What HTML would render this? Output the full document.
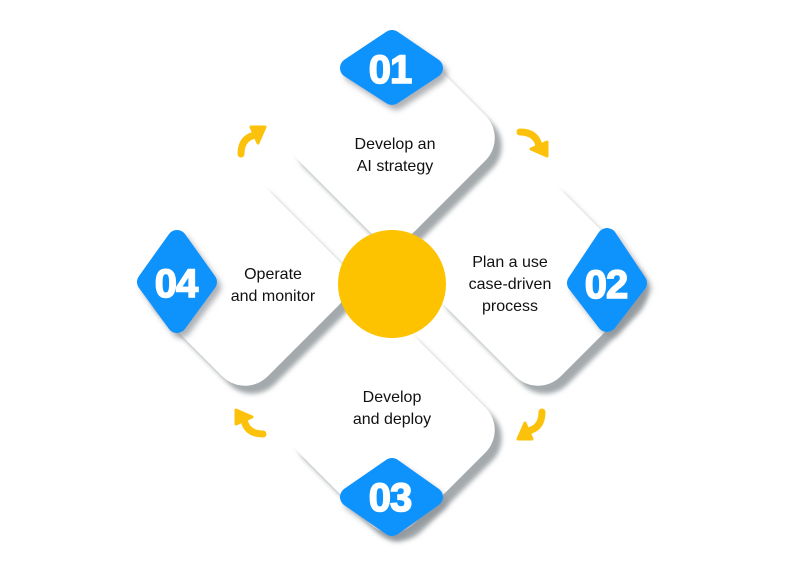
<!DOCTYPE html>
<html><head><meta charset="utf-8"><style>
html,body{margin:0;padding:0;background:#fff;}
svg{display:block;}
.t{font-family:"Liberation Sans",sans-serif;font-size:16px;fill:#111;text-anchor:middle;}
.n{font-family:"Liberation Sans",sans-serif;font-weight:bold;font-size:40px;fill:#fff;stroke:#fff;stroke-width:1.5px;text-anchor:middle;letter-spacing:-1px;}
</style></head><body>
<svg width="800" height="568" viewBox="0 0 800 568">
<defs>
<filter id="sh" x="-30%" y="-30%" width="160%" height="160%">
<feDropShadow dx="7" dy="8" stdDeviation="2.5" flood-color="#a3a9ac" flood-opacity="1"/>
</filter>
<filter id="sh2" x="-30%" y="-30%" width="160%" height="160%">
<feDropShadow dx="4" dy="5" stdDeviation="3" flood-color="#8c9296" flood-opacity="0.7"/>
</filter>
<g id="arr">
<path d="M-9,13 Q-9,-3 5,-6" fill="none" stroke="#fcc10a" stroke-width="7" stroke-linecap="round"/>
<polygon points="15,-14 1,-14 8,2" fill="#fcc10a" stroke="#fcc10a" stroke-width="3" stroke-linejoin="round"/>
</g>
</defs>
<g filter="url(#sh)" fill="#fff">
<rect x="-82" y="-82" width="164" height="164" rx="32" transform="translate(392,138) rotate(45)"/>
<rect x="-82" y="-82" width="164" height="164" rx="32" transform="translate(538,283) rotate(45)"/>
<rect x="-82" y="-82" width="164" height="164" rx="32" transform="translate(392,430) rotate(45)"/>
<rect x="-82" y="-82" width="164" height="164" rx="32" transform="translate(245,283) rotate(45)"/>
</g>
<circle cx="392" cy="284" r="54" fill="#fdc200"/>
<g filter="url(#sh2)" fill="#0a93fb" stroke="#0a93fb" stroke-width="20" stroke-linejoin="round">
<polygon points="392,40 433,68 392,95 350,68"/>
<polygon points="607,238 637,283 607,322 577,283"/>
<polygon points="392,468 433,497 392,526 350,497"/>
<polygon points="177,240 207,282 177,323 147,282"/>
</g>
<text class="n" x="390" y="83">01</text>
<text class="n" x="606" y="298">02</text>
<text class="n" x="390" y="511">03</text>
<text class="n" x="176" y="297">04</text>
<text class="t" x="395" y="149">Develop an</text>
<text class="t" x="395" y="171">AI strategy</text>
<text class="t" x="510" y="267">Plan a use</text>
<text class="t" x="510" y="289">case-driven</text>
<text class="t" x="510" y="311">process</text>
<text class="t" x="273" y="279">Operate</text>
<text class="t" x="273" y="301">and monitor</text>
<text class="t" x="392" y="402">Develop</text>
<text class="t" x="392" y="424">and deploy</text>
<use href="#arr" transform="translate(250,141)"/>
<use href="#arr" transform="translate(533,141) rotate(90)"/>
<use href="#arr" transform="translate(533,425) rotate(180)"/>
<use href="#arr" transform="translate(250,425) rotate(270)"/>
</svg>
</body></html>
